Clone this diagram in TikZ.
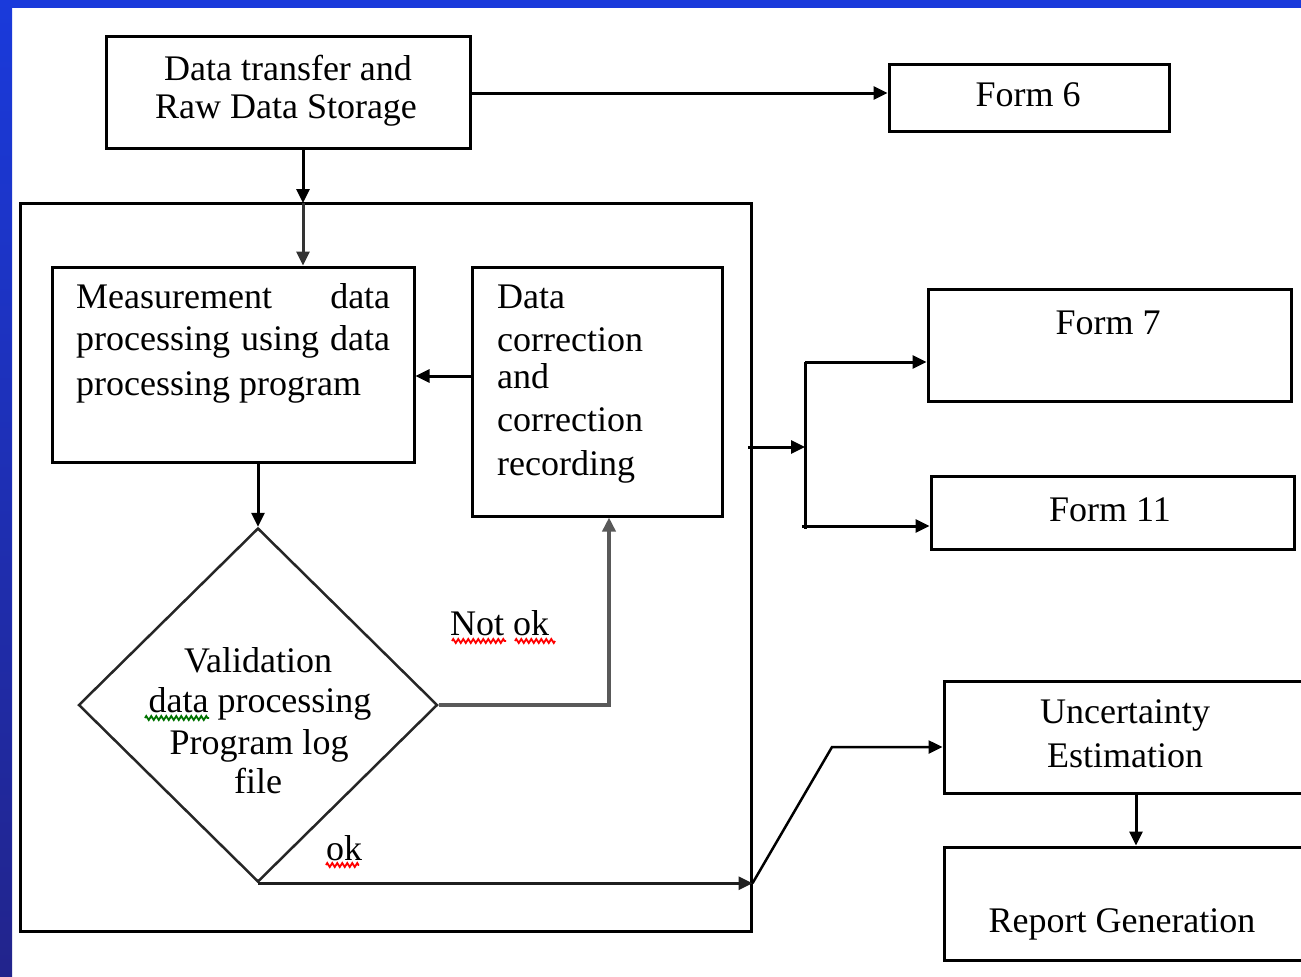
\documentclass[tikz,border=0pt]{standalone}
\usepackage{fontspec}
\setmainfont{Liberation Serif}
\usetikzlibrary{arrows.meta,shapes.geometric,decorations.pathmorphing}
\definecolor{frameblue}{HTML}{1A3ADB}
\definecolor{framedark}{HTML}{22248C}
\tikzset{
  box/.style={draw=black, line width=3pt, rectangle, inner sep=0pt, fill=white},
  txt/.style={inner sep=0pt, anchor=base, font=\fontsize{36}{40}\selectfont},
  txtl/.style={txt, anchor=base west},
  arr/.style={line width=3pt, -{Triangle[length=14pt,width=13pt]}},
  conn/.style={line width=3pt},
  redwave/.style={draw=red, line width=1.8pt, decorate, decoration={zigzag, segment length=5pt, amplitude=2pt}},
  greenwave/.style={draw=green!45!black, line width=1.8pt, decorate, decoration={zigzag, segment length=5pt, amplitude=2pt}}
}
\begin{document}
\begin{tikzpicture}[x=1pt,y=-1pt]
\useasboundingbox (0,0) rectangle (1301,977);
\clip (0,0) rectangle (1301,977);
\fill[white] (0,0) rectangle (1301,977);
% frame
\fill[frameblue] (0,0) rectangle (1301,8);
\shade[top color=frameblue, bottom color=framedark] (0,0) rectangle (12,977);

% boxes
\node[box, minimum width=731pt, minimum height=728pt] (C) at (385.5,567) {};
\node[box, minimum width=364pt, minimum height=112pt] (A) at (288,92) {};
\node[box, minimum width=280pt, minimum height=67pt] (F6) at (1029,97.5) {};
\node[box, minimum width=362pt, minimum height=195pt] (M) at (233,364.5) {};
\node[box, minimum width=250pt, minimum height=249pt] (D) at (597,391.5) {};
\node[box, minimum width=363pt, minimum height=112pt] (F7) at (1109.5,345) {};
\node[box, minimum width=363pt, minimum height=73pt] (F11) at (1112.5,512.5) {};
\node[box, minimum width=380pt, minimum height=112pt] (U) at (1134,737) {};
\node[box, minimum width=380pt, minimum height=113pt] (R) at (1134,903.5) {};
\node[draw=black!85, line width=2.5pt, diamond, inner sep=0pt, minimum width=359pt, minimum height=354pt] (V) at (258,705) {};

% texts
\node[txt] (tA1) at (288,80) {Data transfer and};
\node[txt] (tA2) at (286,118) {Raw Data Storage};
\node[txt] (tF6) at (1028,106) {Form 6};
\node[txt] (tF7) at (1108,334) {Form 7};
\node[txt] (tF11) at (1110,521) {Form 11};
\node[txt] (tU1) at (1125,723) {Uncertainty};
\node[txt] (tU2) at (1125,767) {Estimation};
\node[txt] (tR) at (1122,932) {Report Generation};
\node[txtl] (tM1) at (76,308) {\makebox[314pt][s]{Measurement\hfill data}};
\node[txtl] (tM2) at (76,350) {\makebox[314pt][s]{processing using data}};
\node[txtl] (tM3) at (76,395) {processing program};
\node[txtl] (tD1) at (497,308) {Data};
\node[txtl] (tD2) at (497,351) {correction};
\node[txtl] (tD3) at (497,388) {and};
\node[txtl] (tD4) at (497,431) {correction};
\node[txtl] (tD5) at (497,475) {recording};
\node[txt] (tV1) at (258,672) {Validation};
\node[txt] (tV2) at (260,712) {data processing};
\node[txt] (tV3) at (259,754) {Program log};
\node[txt] (tV4) at (258,793) {file};
\node[txtl] (tN) at (450,635) {Not ok};
\node[txtl] (tO) at (326,860) {ok};

% wavy underlines
\draw[redwave] (452,641) -- (506,641);
\draw[redwave] (515,641) -- (555,641);
\draw[greenwave] (145,718) -- (209,718);
\draw[redwave] (326,865) -- (359,865);

% connectors
\coordinate (c1) at (303,203);
\draw[arr] (A.south -| c1) -- (c1);
\draw[arr, black!80] (c1) -- (c1 |- M.north);
\draw[arr] (A.east |- 0,93) -- (F6.west |- 0,93);
\coordinate (c2) at (443,376);
\draw[arr] (c2 -| D.west) -- (c2 -| M.east);
\draw[arr] (V.north |- M.south) -- (V.north);
\coordinate (c3) at (609,705);
\draw[arr, black!65, line width=3.5pt] (V.east) -- (c3) -- (c3 |- D.south);
\coordinate (c4) at (832,747);
\draw[arr, black!88] (V.south) -- (V.south -| C.east);
\draw[arr, line width=2.5pt] (V.south -| C.east) -- (c4) -- (c4 -| U.west);
\coordinate (c5) at (805,447);
\coordinate (c6) at (805,362);
\coordinate (c7) at (805,526);
\draw[arr] (748,447) -- (c5);
\draw[conn] (c6) -- (805,529);
\draw[arr] (c6) -- (c6 -| F7.west);
\draw[arr] (802,526) -- (c7 -| F11.west);
\draw[arr] (U.south -| 1136,0) -- (R.north -| 1136,0);
\end{tikzpicture}
\end{document}
